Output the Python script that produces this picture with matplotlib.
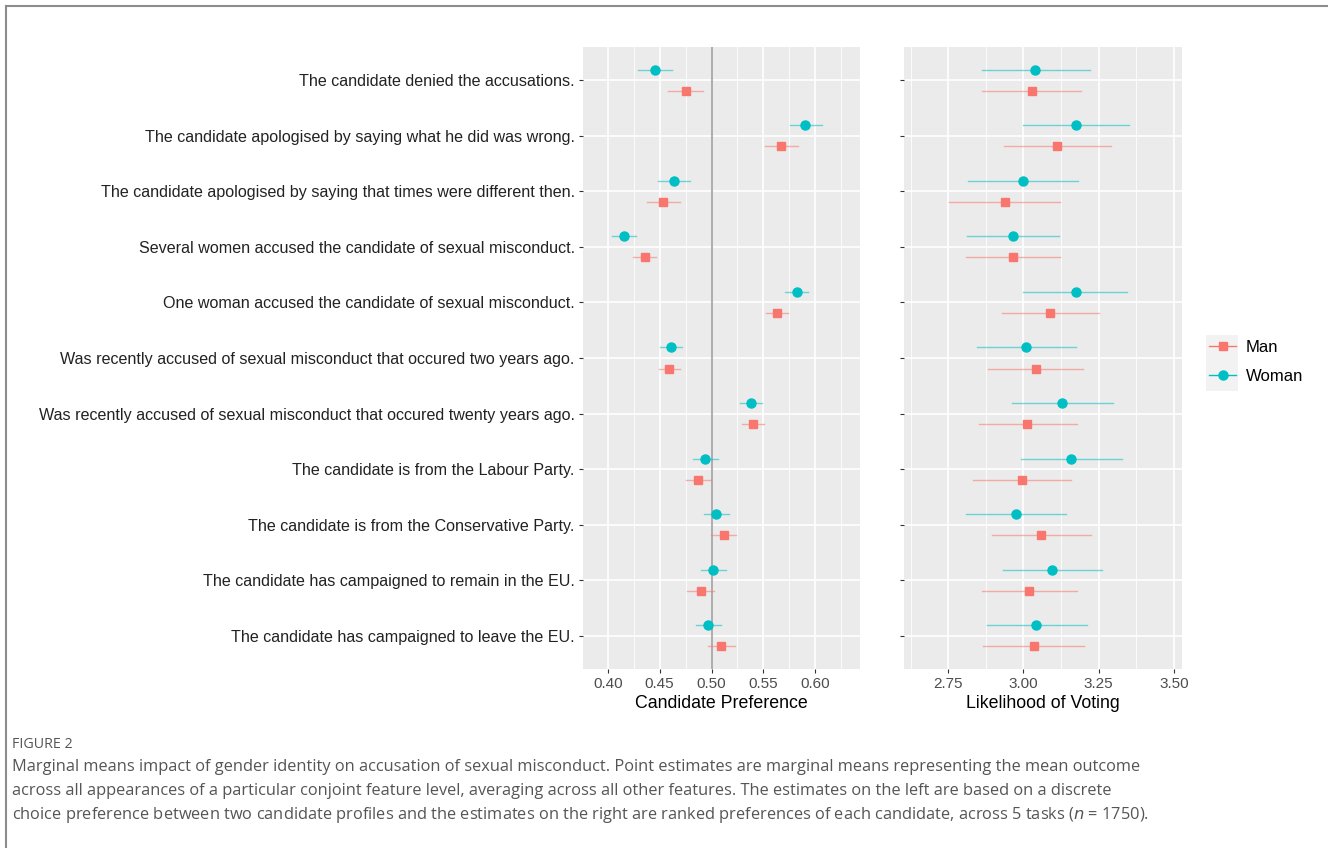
import matplotlib.pyplot as plt
from matplotlib.lines import Line2D
from matplotlib.patches import Rectangle

# categories, top to bottom
labels = [
    "The candidate denied the accusations.",
    "The candidate apologised by saying what he did was wrong.",
    "The candidate apologised by saying that times were different then.",
    "Several women accused the candidate of sexual misconduct.",
    "One woman accused the candidate of sexual misconduct.",
    "Was recently accused of sexual misconduct that occured two years ago.",
    "Was recently accused of sexual misconduct that occured twenty years ago.",
    "The candidate is from the Labour Party.",
    "The candidate is from the Conservative Party.",
    "The candidate has campaigned to remain in the EU.",
    "The candidate has campaigned to leave the EU.",
]

# Candidate Preference (left)
pref_man = [0.475, 0.567, 0.4535, 0.436, 0.563, 0.4593, 0.5397, 0.4871, 0.5118, 0.4894, 0.5096]
pref_man_lo = [0.4583, 0.552, 0.4375, 0.4246, 0.5522, 0.4493, 0.5291, 0.4753, 0.4993, 0.4765, 0.4967]
pref_man_hi = [0.4919, 0.5833, 0.4695, 0.4464, 0.5737, 0.4695, 0.5503, 0.4993, 0.524, 0.5025, 0.5224]
pref_woman = [0.4455, 0.5907, 0.4638, 0.4154, 0.5823, 0.4606, 0.5385, 0.4942, 0.5041, 0.5015, 0.4967]
pref_woman_lo = [0.4294, 0.5753, 0.4481, 0.4044, 0.5714, 0.4503, 0.5279, 0.4823, 0.4926, 0.4894, 0.4846]
pref_woman_hi = [0.4615, 0.6067, 0.4791, 0.4269, 0.5933, 0.4714, 0.549, 0.5058, 0.5166, 0.5144, 0.5096]

# Likelihood of Voting (right)
vote_man = [3.028, 3.113, 2.938, 2.965, 3.090, 3.041, 3.013, 2.997, 3.060, 3.019, 3.035]
vote_man_lo = [2.864, 2.934, 2.754, 2.808, 2.928, 2.884, 2.852, 2.832, 2.895, 2.862, 2.867]
vote_man_hi = [3.192, 3.290, 3.122, 3.123, 3.252, 3.199, 3.177, 3.158, 3.224, 3.177, 3.202]
vote_woman = [3.040, 3.174, 2.998, 2.966, 3.174, 3.010, 3.128, 3.159, 2.975, 3.095, 3.043]
vote_woman_lo = [2.862, 2.998, 2.815, 2.812, 3.000, 2.847, 2.963, 2.992, 2.810, 2.932, 2.879]
vote_woman_hi = [3.221, 3.350, 3.183, 3.119, 3.346, 3.174, 3.298, 3.329, 3.141, 3.260, 3.210]

pref_ticks = [0.40, 0.45, 0.50, 0.55, 0.60]
vote_ticks = [2.75, 3.00, 3.25, 3.50]

MAN = "#F8766D"
WOMAN = "#00BFC4"
TXT = "#222222"

plt.rcParams["font.family"] = ["Liberation Sans", "DejaVu Sans"]

fig = plt.figure(figsize=(13.28, 8.48), dpi=100)
ax1 = fig.add_axes([0.439, 0.2111, 0.2086, 0.7335])
ax2 = fig.add_axes([0.6807, 0.2111, 0.2093, 0.7335])

pos = list(range(len(labels)))
off = 0.19


def panel(ax, man, mlo, mhi, wom, wlo, whi, ticks, xlim, xlabel, minor):
    ax.set_facecolor("#EBEBEB")
    for s in ax.spines.values():
        s.set_visible(False)
    for m in minor:
        ax.axvline(m, color="white", lw=0.6, zorder=0)
    for t in ticks:
        ax.axvline(t, color="white", lw=1.2, zorder=0)
    for p in pos:
        ax.axhline(p, color="white", lw=1.2, zorder=0)
    for i in pos:
        ax.plot([wlo[i], whi[i]], [i - off] * 2, color=WOMAN, lw=1.0, alpha=0.55, zorder=2)
        ax.plot([mlo[i], mhi[i]], [i + off] * 2, color=MAN, lw=1.0, alpha=0.55, zorder=2)
    ax.plot(wom, [p - off for p in pos], "o", color=WOMAN, ms=6.5, zorder=3)
    ax.plot(man, [p + off for p in pos], "s", color=MAN, ms=6, zorder=3)
    ax.set_xlim(*xlim)
    ax.set_ylim(-0.6, len(labels) - 0.4)
    ax.invert_yaxis()
    ax.set_xticks(ticks)
    ax.set_xticklabels([f"{t:.2f}" for t in ticks], fontsize=11, color="#4D4D4D")
    ax.set_yticks(pos)
    ax.tick_params(length=3, width=0.8, color="#333333", pad=3)
    ax.set_xlabel(xlabel, fontsize=12.8, color="black", labelpad=3)


panel(ax1, pref_man, pref_man_lo, pref_man_hi, pref_woman, pref_woman_lo, pref_woman_hi,
      pref_ticks, (0.376, 0.6433), "Candidate Preference",
      [0.375, 0.425, 0.475, 0.525, 0.575, 0.625])
ax1.axvline(0.5, color="#A6A6A6", lw=1.3, zorder=1)
ax1.set_yticklabels(labels, fontsize=11.6, color=TXT)

panel(ax2, vote_man, vote_man_lo, vote_man_hi, vote_woman, vote_woman_lo, vote_woman_hi,
      vote_ticks, (2.603, 3.527), "Likelihood of Voting",
      [2.625, 2.875, 3.125, 3.375])
ax2.set_yticklabels([])

# legend key background
fig.add_artist(Rectangle((1206 / 1328, 1 - 391 / 848), 32 / 1328, 56 / 848,
                         transform=fig.transFigure, facecolor="#F2F2F2",
                         edgecolor="none", zorder=0))
handles = [
    Line2D([], [], color=MAN, marker="s", ms=6, lw=1.0),
    Line2D([], [], color=WOMAN, marker="o", ms=6.5, lw=1.0),
]
leg = fig.legend(handles, ["Man", "Woman"], loc="center left",
                 bbox_to_anchor=(0.903, 0.573), frameon=False, fontsize=12,
                 handlelength=1.6, handletextpad=0.6, labelspacing=0.85,
                 borderpad=0.1)
for t in leg.get_texts():
    t.set_color("black")

# caption
fig.text(0.009, 1 - 745 / 848, "FIGURE 2", fontsize=10.3, color="#555555",
         family=["Open Sans", "DejaVu Sans"], va="center")
caption = [
    "Marginal means impact of gender identity on accusation of sexual misconduct. Point estimates are marginal means representing the mean outcome",
    "across all appearances of a particular conjoint feature level, averaging across all other features. The estimates on the left are based on a discrete",
    "choice preference between two candidate profiles and the estimates on the right are ranked preferences of each candidate, across 5 tasks ($n$ = 1750).",
]
for k, line in enumerate(caption):
    fig.text(0.009, 1 - (767 + 24 * k) / 848, line, fontsize=11.8, color="#555555",
             family=["Open Sans", "DejaVu Sans"], va="center")

# frame
fig.add_artist(Line2D([0.0045, 1.0], [1 - 5.5 / 848] * 2, color="#8C8C8C", lw=1.5,
                      transform=fig.transFigure))
fig.add_artist(Line2D([0.0045, 0.0045], [0.0, 1 - 5.5 / 848], color="#8C8C8C", lw=1.5,
                      transform=fig.transFigure))

fig.savefig("out.png", dpi=100)
